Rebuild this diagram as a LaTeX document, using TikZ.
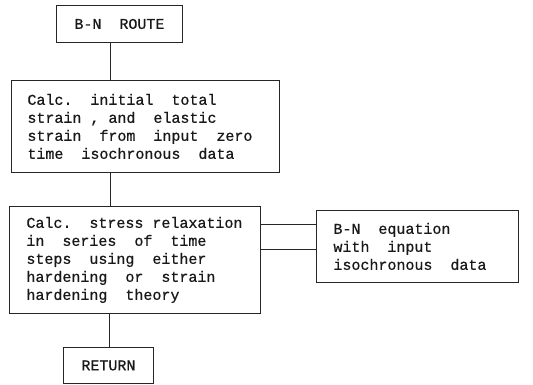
\documentclass[tikz,border=0pt]{standalone}
\usepackage{fontspec}
\newfontfamily\tw[FakeBold=0.8]{Liberation Mono}
\newcommand\twosp{\hspace*{1.2em}}
\newcommand\onesp{\hspace*{0.6em}}
\begin{document}
\begin{tikzpicture}[x=1pt,y=-1pt,
  box/.style={draw=black!85, line width=0.9pt, text=black!90, font=\tw\fontsize{15}{18}\selectfont, inner ysep=0pt},
  ln/.style={draw=black!85, line width=0.9pt}]
\useasboundingbox (0,0) rectangle (533,384);
\node[box, anchor=north west, minimum width=126, minimum height=37, inner xsep=0pt] (route) at (56,5) {B-N\twosp ROUTE};
\node[box, anchor=north west, text width=236pt, inner xsep=16pt, minimum height=92, align=left] (init) at (11,80)
  {Calc.\twosp initial\twosp total\\strain\onesp,\onesp and\twosp elastic\\strain\twosp from\twosp input\twosp zero\\time\twosp isochronous\twosp data};
\node[box, anchor=north west, text width=217pt, inner xsep=17pt, minimum height=107, align=left] (relax) at (9,206)
  {Calc.\twosp stress\onesp relaxation\\in\twosp series\twosp of\twosp time\\steps\twosp using\twosp either\\hardening\twosp or\twosp strain\\hardening\twosp theory};
\node[box, anchor=north west, text width=168pt, inner xsep=17pt, minimum height=72, align=left] (bn) at (316,210)
  {B-N\twosp equation\\with\twosp input\\isochronous\twosp data};
\node[box, anchor=north west, minimum width=90, minimum height=36, inner xsep=0pt] (ret) at (63,347) {RETURN};
\coordinate (c1) at (110,0);
\coordinate (c2) at (109,0);
\coordinate (h1) at (0,224);
\coordinate (h2) at (0,249);
\draw[ln] (route.south -| c1) -- (init.north -| c1);
\draw[ln] (init.south -| c1) -- (relax.north -| c1);
\draw[ln] (relax.south -| c2) -- (ret.north -| c2);
\draw[ln] (relax.east |- h1) -- (bn.west |- h1);
\draw[ln] (relax.east |- h2) -- (bn.west |- h2);
\end{tikzpicture}
\end{document}
